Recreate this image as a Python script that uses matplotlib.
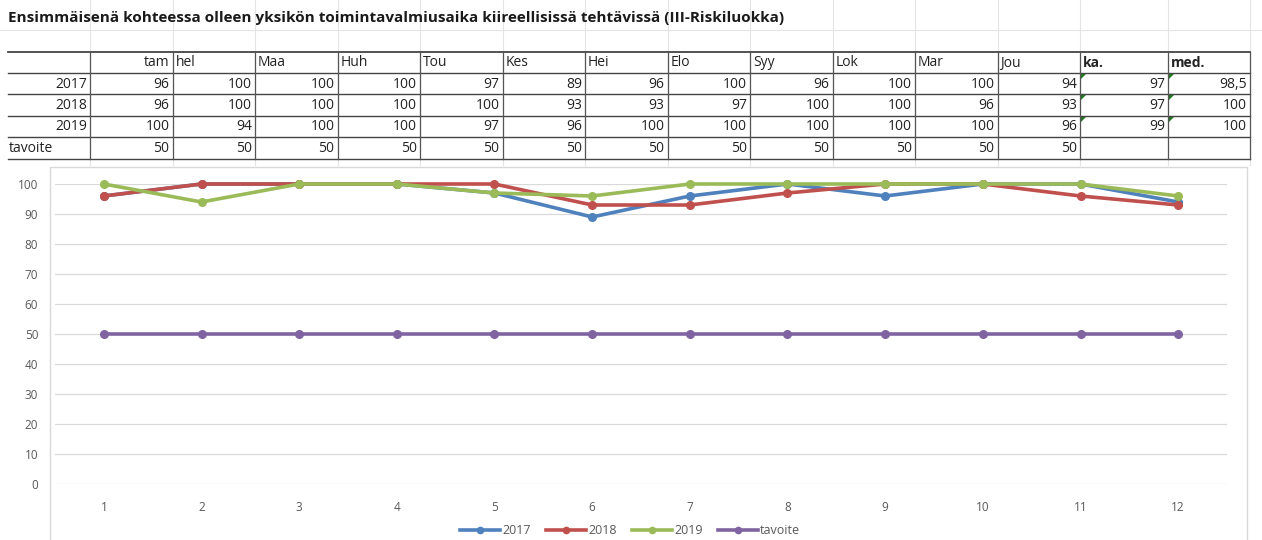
import matplotlib.pyplot as plt
from matplotlib.lines import Line2D
from matplotlib.patches import Polygon, Rectangle

plt.rcParams['font.family'] = ['Open Sans', 'DejaVu Sans']

title = 'Ensimmäisenä kohteessa olleen yksikön toimintavalmiusaika kiireellisissä tehtävissä (III-Riskiluokka)'
months = ['tam', 'hel', 'Maa', 'Huh', 'Tou', 'Kes', 'Hei', 'Elo', 'Syy', 'Lok', 'Mar', 'Jou']
x = list(range(1, 13))

y2017 = [96, 100, 100, 100, 97, 89, 96, 100, 96, 100, 100, 94]
y2018 = [96, 100, 100, 100, 100, 93, 93, 97, 100, 100, 96, 93]
y2019 = [100, 94, 100, 100, 97, 96, 100, 100, 100, 100, 100, 96]
tavoite = [50] * 12

ka = ['97', '97', '99', '']
med = ['98,5', '100', '100', '']

series = [('2017', y2017, '#4F81BD'),
          ('2018', y2018, '#C0504D'),
          ('2019', y2019, '#9BBB59'),
          ('tavoite', tavoite, '#8064A2')]

W, H = 1262, 540
fig = plt.figure(figsize=(W / 100, H / 100), dpi=100)

# overlay in pixel coordinates for the sheet / table
bg = fig.add_axes([0, 0, 1, 1])
bg.set_xlim(0, W)
bg.set_ylim(H, 0)
bg.axis('off')

col_x = [8] + [90 + 82.5 * i for i in range(13)] + [1168, 1250]
row_y = [52, 73, 94, 116, 137, 159]

# faint excel gridlines
for cx in col_x[1:]:
    bg.plot([cx, cx], [0, 165], color='#E4E4E4', lw=0.8, zorder=0)
bg.plot([0, W], [30, 30], color='#E4E4E4', lw=0.8, zorder=0)

bg.text(8, 18, title, fontsize=11, fontweight='bold', va='center', ha='left', color='#1a1a1a')

# table borders
for i, ry in enumerate(row_y):
    bg.plot([col_x[0], col_x[-1]], [ry, ry], color='#444444', lw=1.3 if i == 0 else 1.0)
for cx in col_x[1:]:
    bg.plot([cx, cx], [row_y[0], row_y[-1]], color='#555555', lw=0.9)

fs = 10
tc = '#222222'
rows = ['2017', '2018', '2019', 'tavoite']
data_rows = [y2017, y2018, y2019, tavoite]

def cy(r):
    return (row_y[r] + row_y[r + 1]) / 2 + 0.5

# header row
bg.text(col_x[2] - 3, cy(0), months[0], fontsize=fs, ha='right', va='center', color=tc)
for j in range(1, 12):
    bg.text(col_x[j + 1] + 3, cy(0), months[j], fontsize=fs, ha='left', va='center', color=tc)
bg.text(col_x[13] + 3, cy(0), 'ka.', fontsize=fs, fontweight='bold', ha='left', va='center', color=tc)
bg.text(col_x[14] + 3, cy(0), 'med.', fontsize=fs, fontweight='bold', ha='left', va='center', color=tc)

for r, (name, vals) in enumerate(zip(rows, data_rows)):
    yy = cy(r + 1)
    if name == 'tavoite':
        bg.text(col_x[0] + 1, yy, name, fontsize=fs, ha='left', va='center', color=tc)
    else:
        bg.text(col_x[1] - 3, yy, name, fontsize=fs, ha='right', va='center', color=tc)
    for j, v in enumerate(vals):
        bg.text(col_x[j + 2] - 3, yy, str(v), fontsize=fs, ha='right', va='center', color=tc)
    bg.text(col_x[14] - 3, yy, ka[r], fontsize=fs, ha='right', va='center', color=tc)
    bg.text(col_x[15] - 3, yy, med[r], fontsize=fs, ha='right', va='center', color=tc)
    if ka[r]:
        for cx in (col_x[13], col_x[14]):
            top = row_y[r + 1]
            bg.add_patch(Polygon([[cx + 1, top + 1], [cx + 6, top + 1], [cx + 1, top + 6]],
                                 closed=True, color='#1E7B1E', lw=0))

# chart area border
bg.add_patch(Rectangle((50, 167), 1197, 380, fill=False, edgecolor='#D9D9D9', lw=1.0, zorder=0))

# chart
ax = fig.add_axes([55 / W, 1 - 484 / H, (1227 - 55) / W, (484 - 184) / H])
ax.patch.set_alpha(0)
for name, vals, c in series:
    ax.plot(x, vals, color=c, lw=2.6, marker='o', markersize=5.5, label=name, clip_on=False, zorder=3)

ax.set_xlim(0.5, 12.5)
ax.set_ylim(0, 100)
ax.set_yticks(range(0, 101, 10))
ax.set_xticks(x)
ax.grid(axis='y', color='#D9D9D9', lw=0.9)
ax.set_axisbelow(True)
for s in ax.spines.values():
    s.set_visible(False)
ax.tick_params(length=0, labelsize=8.5, labelcolor='#595959')
ax.tick_params(axis='y', pad=12)
ax.tick_params(axis='x', pad=12)

handles = [Line2D([0], [0], color=c, lw=2.6, marker='o', markersize=4.5) for _, _, c in series]
fig.legend(handles, [s[0] for s in series], loc='center', bbox_to_anchor=(630 / W, 1 - 531 / H),
           ncol=4, frameon=False, fontsize=9, handlelength=3.2, handletextpad=0.2,
           columnspacing=1.2, labelcolor='#595959')

fig.savefig('out.png', dpi=100)
